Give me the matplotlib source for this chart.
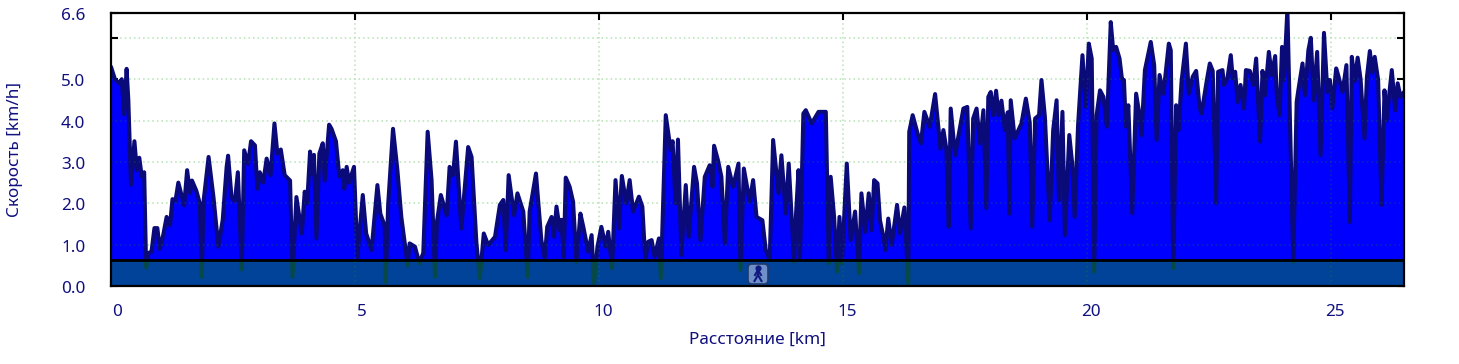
import matplotlib
matplotlib.use('Agg')
import matplotlib.pyplot as plt
from matplotlib.patches import FancyBboxPatch
from matplotlib.lines import Line2D
from matplotlib.transforms import ScaledTranslation

plt.rcParams['font.family'] = ['Noto Sans', 'DejaVu Sans']

# distance [km], speed [km/h]
km_a = [0, .08, .17, .22, .27, .32, .355, .41, .48, .53, .58, .63, .68, .72, .77, .83, .89, .95, 1.0, 1.07,
        1.14, 1.21, 1.26, 1.32, 1.38, 1.5, 1.56, 1.62, 1.66, 1.75, 1.82, 1.86, 1.9, 2.0, 2.1, 2.2, 2.29, 2.37, 2.4, 2.47,
        2.54, 2.6, 2.68, 2.73, 2.81, 2.87, 2.95, 3.0, 3.05, 3.12, 3.19, 3.27, 3.35, 3.41, 3.48, 3.56, 3.67, 3.72, 3.8, 3.91,
        3.97, 4.02, 4.08, 4.13, 4.16, 4.21, 4.27, 4.34, 4.38, 4.47, 4.52, 4.61, 4.68, 4.75, 4.78, 4.83, 4.88, 4.98, 5.05, 5.16]
speed_a = [5.3, 5.0, 4.9, 5.0, 4.15, 5.25, 4.5, 2.45, 3.5, 2.8, 3.1, 2.65, 2.75, .45, .8, .83, 1.4, 1.4, .9, 1.23,
           1.67, 1.47, 2.1, 2.05, 2.5, 1.95, 2.8, 2.25, 2.55, 2.3, 2.0, .22, 2.08, 3.12, 2.15, .95, 1.6, 2.88, 3.15, 2.15,
           2.05, 2.75, .4, 3.28, 2.95, 3.5, 3.4, 2.35, 2.75, 2.5, 3.08, 2.68, 3.93, 3.2, 3.3, 2.68, 2.55, .22, 2.15, 1.27,
           2.28, 2.0, 3.25, 2.7, 3.17, 1.15, 3.2, 3.45, 2.55, 3.9, 3.8, 3.5, 2.65, 2.8, 2.35, 2.88, 2.5, 2.88, .7, 2.2]

km_b = [5.23, 5.34, 5.46, 5.52, 5.61, 5.63, 5.68, 5.78, 5.87, 5.95, 6.08, 6.12, 6.23, 6.32, 6.4, 6.49, 6.57, 6.64, 6.68, 6.76,
        6.88, 6.94, 7.01, 7.07, 7.18, 7.32, 7.39, 7.49, 7.56, 7.64, 7.73, 7.87, 7.97, 8.04, 8.09, 8.15, 8.26, 8.33, 8.45, 8.54,
        8.58, 8.71, 8.82, 8.89, 8.94, 9.03, 9.08, 9.13, 9.2, 9.23, 9.28, 9.32, 9.4, 9.47, 9.54, 9.62, 9.68, 9.78, 9.85, 9.9,
        9.97, 10.05, 10.14, 10.19, 10.27, 10.34, 10.41, 10.47, 10.56, 10.63, 10.7, 10.82, 10.89, 10.95, 11.01, 11.08, 11.14, 11.23, 11.27, 11.37,
        11.47, 11.51, 11.57, 11.62, 11.69, 11.78, 11.84, 11.95, 12.01, 12.08, 12.17, 12.27, 12.33, 12.36, 12.44, 12.51, 12.58, 12.65]
speed_b = [1.27, .87, 2.44, 1.75, 1.45, .1, 1.96, 3.8, 2.8, 1.67, .5, 1.03, .95, .55, .8, 3.73, 2.56, .22, 1.55, 2.2,
           1.71, 2.88, 2.68, 3.49, 1.39, 3.36, 3.12, 1.03, .19, 1.27, .99, 1.19, 1.96, 2.08, .87, 2.68, 1.71, 2.24, 1.8, .22,
           1.8, 2.72, 1.11, .67, 1.43, 1.67, 1.19, 1.92, 1.35, 1.6, .7, 2.62, 2.4, 2.04, .58, 1.75, 1.43, .83, 1.23, .06,
           .95, 1.43, .95, 1.31, .43, 2.56, 1.39, 2.66, 2.0, 2.56, 1.8, 2.16, 1.92, .63, 1.07, 1.11, .71, 1.15, .19, 4.13,
           3.29, 3.5, 2.0, 3.54, .75, 2.44, 1.19, 2.88, 2.48, 1.11, 2.64, 2.92, 2.4, 3.39, 3.04, 2.64, 1.03, 2.88]

km_c = [12.75, 12.86, 12.9, 12.97, 13.09, 13.16, 13.23, 13.35, 13.42, 13.5, 13.57, 13.68, 13.74, 13.83, 13.89, 14.0, 14.04, 14.09, 14.12, 14.19,
        14.24, 14.36, 14.5, 14.65, 14.71, 14.75, 14.82, 14.88, 14.93, 14.98, 15.08, 15.16, 15.25, 15.33, 15.38, 15.46, 15.53, 15.59, 15.64, 15.71,
        15.76, 15.83, 15.87, 15.93, 16.0, 16.11, 16.17, 16.26, 16.34, 16.36, 16.43, 16.54, 16.6, 16.67, 16.78, 16.89, 17.0, 17.06, 17.12, 17.17,
        17.21, 17.3, 17.36, 17.47, 17.55, 17.62, 17.67, 17.74, 17.81, 17.88, 17.94, 17.98, 18.03, 18.08, 18.14, 18.19, 18.25, 18.32, 18.38, 18.41,
        18.44, 18.52, 18.66, 18.75, 18.83, 18.88, 18.94, 19.02, 19.07, 19.14, 19.24, 19.31, 19.38, 19.43, 19.5, 19.55, 19.64, 19.7, 19.75, 19.82]
speed_c = [2.4, 2.96, .39, 2.84, 2.04, 2.56, 1.67, 1.59, .87, .63, 3.53, 2.24, 3.16, 1.75, 2.96, .59, 1.75, 2.8, .63, 4.17,
           4.25, 3.93, 4.21, 4.21, .55, 2.64, 1.67, .35, 1.67, .55, 2.96, 1.11, 1.8, .31, 2.24, 1.31, 2.24, 1.35, 2.56, 2.48,
           1.59, 1.19, .87, 1.63, .99, 1.96, 1.27, 1.9, .06, 3.73, 4.13, 3.65, 3.45, 4.21, 3.85, 4.64, 3.32, 3.77, 3.32, 1.43,
           4.29, 3.16, 3.57, 4.29, 4.33, 1.39, 4.05, 4.29, 3.45, 4.25, 1.88, 4.57, 4.69, 4.13, 4.72, 4.13, 4.48, 3.77, 4.2, 1.75,
           4.49, 3.57, 3.93, 4.53, 3.95, 1.43, 4.05, 4.13, 4.98, 4.09, 1.59, 3.77, 4.49, 2.08, 4.21, 1.23, 3.65, 2.96, 1.67, 3.89]

km_d = [19.91, 19.98, 20.04, 20.1, 20.15, 20.2, 20.27, 20.34, 20.41, 20.49, 20.54, 20.6, 20.67, 20.72, 20.76, 20.8, 20.85, 20.93, 21.01, 21.08,
        21.12, 21.19, 21.31, 21.38, 21.43, 21.49, 21.57, 21.68, 21.72, 21.77, 21.83, 21.88, 21.94, 22.03, 22.09, 22.17, 22.24, 22.31, 22.35, 22.46,
        22.52, 22.58, 22.65, 22.69, 22.78, 22.81, 22.88, 22.95, 22.99, 23.04, 23.09, 23.15, 23.22, 23.26, 23.34, 23.41, 23.47, 23.55, 23.6, 23.65,
        23.73, 23.79, 23.86, 23.89, 23.95, 24.0, 24.04, 24.11, 24.23, 24.3, 24.33, 24.42, 24.47, 24.54, 24.59, 24.65, 24.72, 24.79, 24.86, 24.93,
        24.98, 25.03, 25.11, 25.15, 25.24, 25.32, 25.39, 25.43, 25.49, 25.55, 25.61, 25.69, 25.74, 25.8, 25.85, 25.9, 25.97, 26.04, 26.1, 26.14,
        26.25, 26.32, 26.37, 26.43, 26.5]
speed_d = [5.58, 4.33, 5.86, 5.5, .35, 4.13, 4.73, 4.57, 3.85, 6.38, 5.7, 5.78, 5.5, 5.0, 4.98, 3.85, 4.37, 1.76, 4.65, 4.13,
           3.65, 5.22, 5.9, 5.34, 3.53, 5.1, 4.65, 5.86, 5.7, .43, 4.37, 3.77, 4.94, 5.86, 4.65, 5.06, 5.2, 4.33, 4.17, 4.98,
           5.38, 5.2, 2.0, 5.18, 5.22, 4.86, 5.02, 5.58, 5.02, 5.18, 4.45, 4.86, 4.29, 5.22, 5.2, 4.86, 5.5, 3.49, 5.2, 4.61,
           5.66, 5.1, 5.56, 4.65, 4.13, 5.78, 4.98, 6.7, .59, 4.45, 4.7, 5.38, 4.61, 5.7, 6.0, 4.49, 5.66, 3.16, 6.12, 4.69,
           4.98, 4.29, 5.26, 5.1, 4.69, 5.34, 1.55, 5.54, 4.95, 5.52, 5.0, 3.57, 5.05, 5.68, 5.15, 5.54, 4.98, 1.96, 4.73, 4.0,
           5.22, 4.25, 4.9, 4.57, 4.69]

km = km_a + km_b + km_c + km_d
speed = speed_a + speed_b + speed_c + speed_d

x_ticks = [0, 5, 10, 15, 20, 25]
x_labels = ['0', '5', '10', '15', '20', '25']
y_ticks = [0, 1, 2, 3, 4, 5, 6, 6.6]
y_labels = ['0.0', '1.0', '2.0', '3.0', '4.0', '5.0', '', '6.6']
walk_limit = 0.62
walk_icon_km = 13.26

txt = '#10107f'
W, H = 1459, 364
fig = plt.figure(figsize=(W / 100, H / 100), dpi=100)
ax = fig.add_axes([111 / W, (H - 286) / H, 1293 / W, 273 / H])

area = ax.fill_between(km, speed, 0, color='#0000ff', lw=0, zorder=1)
ax.plot(km, speed, color='#0a0a78', lw=2.9, solid_joinstyle='round', solid_capstyle='round', zorder=2)

# walking band
ax.axhspan(0, walk_limit, color='#00aa00', alpha=0.4, lw=0, zorder=3)
ax.axhline(walk_limit, color='black', lw=2.0, zorder=4)

ax.set_xlim(0, 26.5)
ax.set_ylim(0, 6.6)
ax.set_xticks(x_ticks)
ax.set_xticklabels(x_labels)
ax.set_yticks(y_ticks)
ax.set_yticklabels(y_labels)
# light dots on the white, faint dark ones clipped to the fill
ax.set_axisbelow(True)
ax.grid(True, color='#b4e2b4', ls=(0, (1, 2)), lw=1.1)
for v in x_ticks[1:]:
    g = ax.axvline(v, color='#107040', ls=(0, (1, 2)), lw=1.1, alpha=0.4, zorder=2.5)
    g.set_clip_path(area.get_paths()[0], ax.transData)
for v in y_ticks[1:-1]:
    g = ax.axhline(v, color='#107040', ls=(0, (1, 2)), lw=1.1, alpha=0.4, zorder=2.5)
    g.set_clip_path(area.get_paths()[0], ax.transData)
for sp in ax.spines.values():
    sp.set_linewidth(1.6)
    sp.set_zorder(6)
ax.tick_params(direction='in', length=5, width=1.5, top=True, right=True, labelsize=12.3,
               labelcolor=txt, zorder=6)
ax.tick_params(axis='y', pad=18.5)
ax.tick_params(axis='x', pad=13)

# labels sit a little off their ticks in the original
for t in ax.get_xticklabels():
    dx = 6.5 if len(t.get_text()) == 1 else 4.5
    t.set_transform(t.get_transform() + ScaledTranslation(dx / 100, 0, fig.dpi_scale_trans))
for t in ax.get_yticklabels():
    t.set_transform(t.get_transform() + ScaledTranslation(0, -1 / 100, fig.dpi_scale_trans))

fig.text(757.5 / W, 1 - 339.5 / H, 'Расстояние [km]', ha='center', va='center', color=txt, fontsize=12.3)
fig.text(15 / W, 1 - 149.5 / H, 'Скорость [km/h]', ha='center', va='center', rotation=90, color=txt, fontsize=12.3)

# walker icon, pixel sized box
ix = 111 + walk_icon_km * 1293 / 26.5
box = FancyBboxPatch((ix - 10, H - 284), 20, 20, boxstyle='round,pad=0,rounding_size=4', transform=None,
                     fc='#6f8fc8', ec='#1f3a6e', lw=1.2, zorder=7)
fig.add_artist(box)
man = [([0, 0], [4, -1]), ([0, -3.5], [-1, -7]), ([0, 3.5], [-1, -7]), ([0, -3], [4, -1]), ([0, 3], [4, -1])]
for xs, ys in man:
    fig.add_artist(Line2D([ix + v for v in xs], [H - 274 + v for v in ys], transform=None, color='#101a80',
                          lw=1.5, zorder=8))
fig.add_artist(Line2D([ix], [H - 274 + 6], transform=None, marker='o', ms=3.4, color='#101a80', zorder=8))

fig.savefig('out.png', dpi=100)
